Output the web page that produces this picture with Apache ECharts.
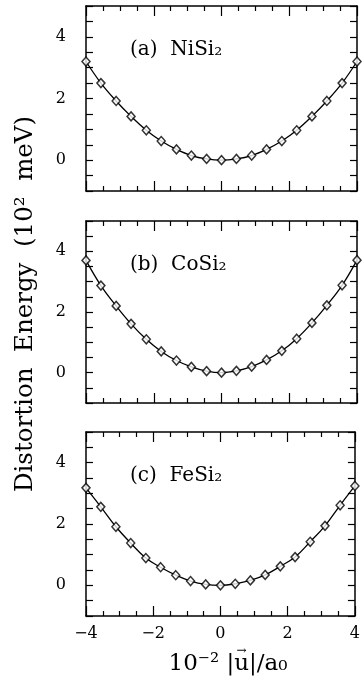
<!DOCTYPE html>
<html>
<head>
<meta charset="utf-8">
<script src="https://cdn.jsdelivr.net/npm/echarts@6/dist/echarts.min.js"></script>
<style>
  html, body { margin: 0; padding: 0; background: #fff; }
  #main { width: 363px; height: 681px; }
</style>
</head>
<body>
<div id="main"></div>
<script>
// displacement, 10^-2 |u|/a0
const uValues = [-4, -3.56, -3.11, -2.67, -2.22, -1.78, -1.33, -0.89, -0.44, 0,
  0.44, 0.89, 1.33, 1.78, 2.22, 2.67, 3.11, 3.56, 4]
// distortion energy, 10^2 meV
const energyNiSi2 = [3.2, 2.5, 1.92, 1.42, 0.97, 0.62, 0.35, 0.15, 0.04, 0,
  0.04, 0.15, 0.35, 0.62, 0.97, 1.42, 1.92, 2.5, 3.2]
const energyCoSi2 = [3.7, 2.87, 2.2, 1.61, 1.1, 0.7, 0.4, 0.19, 0.05, 0,
  0.06, 0.2, 0.42, 0.72, 1.12, 1.64, 2.22, 2.88, 3.71]
const energyFeSi2 = [3.18, 2.56, 1.91, 1.38, 0.89, 0.59, 0.33, 0.14, 0.03, 0,
  0.05, 0.16, 0.34, 0.62, 0.92, 1.42, 1.94, 2.61, 3.24]
const panelLabels = ['(a)  NiSi₂', '(b)  CoSi₂', '(c)  FeSi₂']
const xTickLabels = ['−4', '−2', '0', '2', '4']
const yTickLabels = ['0', '2', '4']

const FONT = 'DejaVu Serif'
const panels = [energyNiSi2, energyCoSi2, energyFeSi2]
const grids = [
  { left: 86, right: 6, top: 6, height: 185 },
  { left: 86, right: 6, top: 221, height: 182 },
  { left: 86, right: 6, top: 432, height: 184 }
]

let xAxes = []
let yAxes = []
let series = []
let graphic = []

panels.forEach(function (vals, i) {
  let last = i === panels.length - 1
  let axisLine = { show: true, onZero: false, lineStyle: { color: '#000', width: 1.5 } }
  // bottom + top x axes
  ;['bottom', 'top'].forEach(function (pos) {
    xAxes.push({
      type: 'value', gridIndex: i, position: pos,
      min: -4, max: 4, interval: 2,
      axisLine: axisLine,
      axisTick: { inside: true, length: 10, lineStyle: { color: '#000', width: 1.2 } },
      minorTick: { show: true, splitNumber: 4, length: 5, lineStyle: { color: '#000', width: 1.2 } },
      splitLine: { show: false },
      axisLabel: {
        show: last && pos === 'bottom', margin: 10,
        fontFamily: FONT, fontSize: 16, color: '#000',
        formatter: function (v) { return xTickLabels[Math.round((v + 4) / 2)] }
      }
    })
  })
  // left + right y axes
  ;['left', 'right'].forEach(function (pos) {
    yAxes.push({
      type: 'value', gridIndex: i, position: pos,
      min: -1, max: 5, interval: 1,
      axisLine: axisLine,
      axisTick: { inside: true, length: 7, lineStyle: { color: '#000', width: 1.2 } },
      minorTick: { show: true, splitNumber: 2, length: 7, lineStyle: { color: '#000', width: 1.2 } },
      splitLine: { show: false },
      axisLabel: {
        show: pos === 'left', margin: 20,
        fontFamily: FONT, fontSize: 16, color: '#000',
        formatter: function (v) {
          let k = yTickLabels.indexOf(String(v))
          return k >= 0 ? yTickLabels[k] : ''
        }
      }
    })
  })
  let pts = uValues.map(function (u, k) { return [u, vals[k]] })
  series.push({
    type: 'line', xAxisIndex: 2 * i, yAxisIndex: 2 * i,
    data: pts, smooth: 0.4, showSymbol: false, silent: true,
    lineStyle: { color: '#000', width: 1.3 }, z: 2
  })
  series.push({
    type: 'scatter', xAxisIndex: 2 * i, yAxisIndex: 2 * i,
    data: pts, symbol: 'diamond', symbolSize: [8, 9],
    itemStyle: { color: '#fff', borderColor: '#000', borderWidth: 1.5 }, z: 3
  })
  graphic.push({
    type: 'text', x: 130, y: grids[i].top + 44,
    style: { text: panelLabels[i], font: '20px "' + FONT + '"', fill: '#000', verticalAlign: 'middle' }
  })
})

graphic.push({
  type: 'text', x: 26, y: 304, rotation: Math.PI / 2,
  style: {
    text: 'Distortion  Energy  (10²  meV)', font: '24.5px "' + FONT + '"', fill: '#000',
    align: 'center', verticalAlign: 'middle'
  }
})

// x axis title, with a small arrow over the u
const xTitle = '10⁻² |u|/a₀'
const xTitleFont = '23px "' + FONT + '"'
const meas = document.createElement('canvas').getContext('2d')
meas.font = xTitleFont
const xTitleW = meas.measureText(xTitle).width
const uLeft = 228 - xTitleW / 2 + meas.measureText('10⁻² |').width
const uW = meas.measureText('u').width
graphic.push({
  type: 'text', x: 228, y: 664,
  style: { text: xTitle, font: xTitleFont, fill: '#000', align: 'center', verticalAlign: 'middle' }
})
graphic.push({
  type: 'text', x: uLeft + uW / 2, y: 651,
  style: { text: '→', font: '12px "' + FONT + '"', fill: '#000', align: 'center', verticalAlign: 'middle' }
})

let myChart = echarts.init(document.getElementById('main'))
myChart.setOption({
  animation: false,
  backgroundColor: '#fff',
  grid: grids,
  xAxis: xAxes,
  yAxis: yAxes,
  series: series,
  graphic: graphic
})
</script>
</body>
</html>
